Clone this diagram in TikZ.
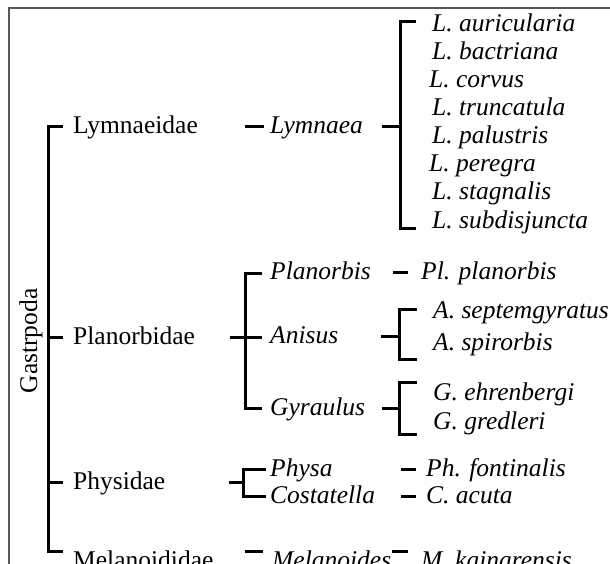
\documentclass[tikz,border=0pt]{standalone}
\usepackage{fontspec}
\setmainfont{Liberation Serif}
\tikzset{
  lbl/.style={anchor=base west, inner sep=0pt, font=\fontsize{25.5}{30}\selectfont},
  sp/.style={anchor=base west, inner sep=0pt, font=\fontsize{25.5}{30}\selectfont\itshape},
  ln/.style={line width=3pt, line join=miter},
  brd/.style={line width=1.3pt, draw=black!65}
}
\begin{document}
\begin{tikzpicture}[x=1pt,y=-1pt]
\useasboundingbox (0,0) rectangle (610,564);
\clip (0,0) rectangle (610,564);
% frame
\coordinate (fa) at (9,570);
\coordinate (fb) at (9,8);
\coordinate (fc) at (615,8);
\draw[brd] (fa) -- (fb) -- (fc);

% class
\node[lbl, anchor=center, rotate=90] (gas) at (31,341) {Gastrpoda};

% main bracket
\coordinate (m1) at (48,127);  \coordinate (m1e) at (63,127);
\coordinate (m2) at (48,337);  \coordinate (m2e) at (63,337);
\coordinate (m3) at (48,482);  \coordinate (m3e) at (63,482);
\coordinate (m4) at (48,551);  \coordinate (m4e) at (63,551);
\draw[ln] (m1e) -- (m1) -- (m4) -- (m4e);
\draw[ln] (m2) -- (m2e);
\draw[ln] (m3) -- (m3e);

% families
\node[lbl] (lymf) at (73,134) {Lymnaeidae};
\node[lbl] (plaf) at (73,344) {Planorbidae};
\node[lbl] (phyf) at (73,489) {Physidae};
\node[lbl] (melf) at (73,568) {Melanoididae};

% ---- Lymnaeidae
\coordinate (l1a) at (245,127); \coordinate (l1b) at (264,127);
\draw[ln] (l1a) -- (l1b);
\node[sp] (lym) at (270,134) {Lymnaea};
\coordinate (l2a) at (382,127); \coordinate (l2b) at (400,127);
\draw[ln] (l2a) -- (l2b);
\coordinate (lbt) at (400,22); \coordinate (lbte) at (416,22);
\coordinate (lbb) at (400,228); \coordinate (lbbe) at (416,228);
\draw[ln] (lbte) -- (lbt) -- (lbb) -- (lbbe);
\node[sp] (s1) at (432,32)  {L. auricularia};
\node[sp] (s2) at (432,60)  {L. bactriana};
\node[sp] (s3) at (429,88)  {L. corvus};
\node[sp] (s4) at (432,116) {L. truncatula};
\node[sp] (s5) at (432,144) {L. palustris};
\node[sp] (s6) at (429,172) {L. peregra};
\node[sp] (s7) at (432,200) {L. stagnalis};
\node[sp] (s8) at (432,228) {L. subdisjuncta};

% ---- Planorbidae
\coordinate (p0a) at (230,337); \coordinate (p0b) at (262,337);
\draw[ln] (p0a) -- (p0b);
\coordinate (pbt) at (245,273); \coordinate (pbte) at (262,273);
\coordinate (pbb) at (245,408); \coordinate (pbbe) at (262,408);
\draw[ln] (pbte) -- (pbt) -- (pbb) -- (pbbe);
\node[sp] (plan) at (270,279) {Planorbis};
\node[sp] (anis) at (270,343) {Anisus};
\node[sp] (gyr)  at (270,415) {Gyraulus};

\coordinate (pp1) at (393,272); \coordinate (pp2) at (408,272);
\draw[ln] (pp1) -- (pp2);
\node[sp] (plpl) at (421,279) {Pl. planorbis};

\coordinate (a0a) at (381,336); \coordinate (a0b) at (399,336);
\draw[ln] (a0a) -- (a0b);
\coordinate (abt) at (399,309); \coordinate (abte) at (417,309);
\coordinate (abb) at (399,359); \coordinate (abbe) at (417,359);
\draw[ln] (abte) -- (abt) -- (abb) -- (abbe);
\node[sp] (asep) at (433,318) {A. septemgyratus};
\node[sp] (aspi) at (433,350) {A. spirorbis};

\coordinate (g0a) at (382,408); \coordinate (g0b) at (399,408);
\draw[ln] (g0a) -- (g0b);
\coordinate (gbt) at (399,382); \coordinate (gbte) at (417,382);
\coordinate (gbb) at (399,434); \coordinate (gbbe) at (417,434);
\draw[ln] (gbte) -- (gbt) -- (gbb) -- (gbbe);
\node[sp] (gehr) at (433,400) {G. ehrenbergi};
\node[sp] (ggre) at (433,429) {G. gredleri};

% ---- Physidae
\coordinate (h0a) at (229,482); \coordinate (h0b) at (243,482);
\draw[ln] (h0a) -- (h0b);
\coordinate (hbt) at (243,469); \coordinate (hbte) at (266,469);
\coordinate (hbb) at (243,496); \coordinate (hbbe) at (266,496);
\draw[ln] (hbte) -- (hbt) -- (hbb) -- (hbbe);
\node[sp] (phy) at (270,476) {Physa};
\node[sp] (cos) at (270,503) {Costatella};
\coordinate (hd1a) at (401,469); \coordinate (hd1b) at (416,469);
\coordinate (hd2a) at (401,496); \coordinate (hd2b) at (416,496);
\draw[ln] (hd1a) -- (hd1b);
\draw[ln] (hd2a) -- (hd2b);
\node[sp] (phf) at (426,476) {Ph. fontinalis};
\node[sp] (cac) at (426,503) {C. acuta};

% ---- Melanoididae
\coordinate (md1a) at (245,551); \coordinate (md1b) at (263,551);
\draw[ln] (md1a) -- (md1b);
\node[sp] (mel) at (272,568) {Melanoides};
\coordinate (md2a) at (392,551); \coordinate (md2b) at (408,551);
\draw[ln] (md2a) -- (md2b);
\node[sp] (mka) at (421,568) {M. kainarensis};
\end{tikzpicture}
\end{document}
